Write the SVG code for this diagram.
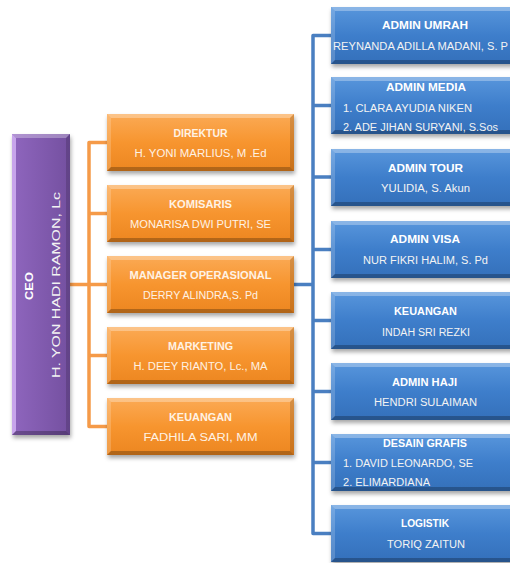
<svg xmlns="http://www.w3.org/2000/svg" xmlns:xlink="http://www.w3.org/1999/xlink" width="510" height="563" viewBox="0 0 510 563">
<style>
.t{font-family:"Liberation Sans",Arial,sans-serif;fill:#ffffff;font-size:10px;text-anchor:middle}
.b{font-weight:bold}
.n{fill:#f3f3f3}
.on{fill:#fff2e4}
.s{text-anchor:start}
.co{fill:none;stroke:#f59a48;stroke-width:3.5;stroke-linejoin:round}
.cb{fill:none;stroke:#4a7fc1;stroke-width:3.5;stroke-linejoin:round}
</style>
<defs>
<linearGradient id="gO" x1="0" y1="0" x2="0" y2="1">
<stop offset="0" stop-color="#fbaa55"/>
<stop offset="0.5" stop-color="#f7952f"/>
<stop offset="1" stop-color="#ec8620"/>
</linearGradient>
<linearGradient id="gB" x1="0" y1="0" x2="0" y2="1">
<stop offset="0" stop-color="#5896dc"/>
<stop offset="0.5" stop-color="#3e7ecb"/>
<stop offset="1" stop-color="#3470ba"/>
</linearGradient>
<linearGradient id="gP" x1="0" y1="0" x2="1" y2="0">
<stop offset="0" stop-color="#8f66be"/>
<stop offset="1" stop-color="#7450a0"/>
</linearGradient>
<filter id="sh" x="-10%" y="-20%" width="120%" height="150%">
<feGaussianBlur stdDeviation="2"/>
</filter>
<g id="bev">
<polygon points="0,0 187,0 183,4 4,4" fill="#ffffff" fill-opacity="0.3"/>
<polygon points="0,0 4,4 4,53 0,57" fill="#ffffff" fill-opacity="0.18"/>
<polygon points="187,0 187,57 183,53 183,4" fill="#000000" fill-opacity="0.15"/>
<polygon points="0,57 4,53 183,53 187,57" fill="#000000" fill-opacity="0.25"/>
</g>
<g id="boxO">
<rect x="1" y="3" width="187" height="57" fill="#000" fill-opacity="0.35" filter="url(#sh)"/>
<rect x="0" y="0" width="187" height="57" fill="url(#gO)"/>
<use xlink:href="#bev" href="#bev"/>
</g>
<g id="boxB">
<rect x="1" y="3" width="187" height="57" fill="#000" fill-opacity="0.35" filter="url(#sh)"/>
<rect x="0" y="0" width="187" height="57" fill="url(#gB)"/>
<use xlink:href="#bev" href="#bev"/>
</g>
</defs>
<rect width="510" height="563" fill="#ffffff"/>

<g id="connectors">
<path class="co" d="M70,284.5 H107 M107,142.5 H89 V426.5 H107 M89,213.5 H107 M89,355.5 H107"/>
<path class="cb" d="M294,284.5 H313 M331,35.5 H313 V533.5 H331 M313,105.5 H331 M313,177 H331 M313,249.5 H331 M313,320.5 H331 M313,391.5 H331 M313,462.5 H331"/>
</g>

<g id="ceo">
<rect x="13" y="137" width="58" height="301" fill="#000" fill-opacity="0.35" filter="url(#sh)"/>
<rect x="12" y="134" width="58" height="301" fill="url(#gP)"/>
<polygon points="12,134 70,134 66,138 16,138" fill="#ffffff" fill-opacity="0.3"/>
<polygon points="12,134 16,138 16,431 12,435" fill="#e0c0ff" fill-opacity="0.7"/>
<polygon points="70,134 70,435 66,431 66,138" fill="#000000" fill-opacity="0.15"/>
<polygon points="12,435 16,431 66,431 70,435" fill="#000000" fill-opacity="0.25"/>
<text class="t b" x="33" y="286" font-size="15" textLength="28" lengthAdjust="spacingAndGlyphs" transform="rotate(-90 33 286)">CEO</text>
<text class="t n" x="60" y="285" font-size="14" textLength="186" lengthAdjust="spacingAndGlyphs" transform="rotate(-90 60 285)">H. YON HADI RAMON, Lc</text>
</g>

<g id="direktur">
<use xlink:href="#boxO" href="#boxO" x="107" y="114"/>
<text class="t b on" x="200.5" y="137" textLength="54" lengthAdjust="spacingAndGlyphs">DIREKTUR</text>
<text class="t on" x="200.5" y="157" textLength="132" lengthAdjust="spacingAndGlyphs">H. YONI MARLIUS, M .Ed</text>
</g>
<g id="komisaris">
<use xlink:href="#boxO" href="#boxO" x="107" y="185"/>
<text class="t b on" x="200.5" y="208" textLength="63" lengthAdjust="spacingAndGlyphs">KOMISARIS</text>
<text class="t on" x="200.5" y="228" textLength="141" lengthAdjust="spacingAndGlyphs">MONARISA DWI PUTRI, SE</text>
</g>
<g id="manager">
<use xlink:href="#boxO" href="#boxO" x="107" y="256"/>
<text class="t b on" x="200.5" y="279" textLength="142" lengthAdjust="spacingAndGlyphs">MANAGER OPERASIONAL</text>
<text class="t on" x="200.5" y="299" textLength="115" lengthAdjust="spacingAndGlyphs">DERRY ALINDRA,S. Pd</text>
</g>
<g id="marketing">
<use xlink:href="#boxO" href="#boxO" x="107" y="327"/>
<text class="t b on" x="200.5" y="350" textLength="65" lengthAdjust="spacingAndGlyphs">MARKETING</text>
<text class="t on" x="200.5" y="370" textLength="134" lengthAdjust="spacingAndGlyphs">H. DEEY RIANTO, Lc., MA</text>
</g>
<g id="keuangan1">
<use xlink:href="#boxO" href="#boxO" x="107" y="398"/>
<text class="t b on" x="200.5" y="421" textLength="63" lengthAdjust="spacingAndGlyphs">KEUANGAN</text>
<text class="t on" x="200.5" y="441" textLength="114" lengthAdjust="spacingAndGlyphs">FADHILA SARI, MM</text>
</g>

<g id="admin-umrah">
<use xlink:href="#boxB" href="#boxB" x="331" y="7"/>
<text class="t b" x="425" y="29" textLength="86" lengthAdjust="spacingAndGlyphs">ADMIN UMRAH</text>
<text class="t n s" x="333" y="50" textLength="175" lengthAdjust="spacingAndGlyphs">REYNANDA ADILLA MADANI, S. P</text>
</g>
<g id="admin-media">
<use xlink:href="#boxB" href="#boxB" x="331" y="77"/>
<text class="t b" x="426" y="91" textLength="80" lengthAdjust="spacingAndGlyphs">ADMIN MEDIA</text>
<text class="t n s" x="343" y="112" textLength="129" lengthAdjust="spacingAndGlyphs">1. CLARA AYUDIA NIKEN</text>
<text class="t n s" x="343" y="131" textLength="155" lengthAdjust="spacingAndGlyphs">2. ADE JIHAN SURYANI, S.Sos</text>
</g>
<g id="admin-tour">
<use xlink:href="#boxB" href="#boxB" x="331" y="149"/>
<text class="t b" x="425.5" y="172" textLength="75" lengthAdjust="spacingAndGlyphs">ADMIN TOUR</text>
<text class="t n" x="425.5" y="192" textLength="89" lengthAdjust="spacingAndGlyphs">YULIDIA, S. Akun</text>
</g>
<g id="admin-visa">
<use xlink:href="#boxB" href="#boxB" x="331" y="221"/>
<text class="t b" x="425" y="243" textLength="70" lengthAdjust="spacingAndGlyphs">ADMIN VISA</text>
<text class="t n" x="425.5" y="264" textLength="125" lengthAdjust="spacingAndGlyphs">NUR FIKRI HALIM, S. Pd</text>
</g>
<g id="keuangan2">
<use xlink:href="#boxB" href="#boxB" x="331" y="292"/>
<text class="t b" x="425.5" y="315" textLength="63" lengthAdjust="spacingAndGlyphs">KEUANGAN</text>
<text class="t n" x="426" y="336" textLength="88" lengthAdjust="spacingAndGlyphs">INDAH SRI REZKI</text>
</g>
<g id="admin-haji">
<use xlink:href="#boxB" href="#boxB" x="331" y="363"/>
<text class="t b" x="424.5" y="386" textLength="65" lengthAdjust="spacingAndGlyphs">ADMIN HAJI</text>
<text class="t n" x="425.5" y="406" textLength="103" lengthAdjust="spacingAndGlyphs">HENDRI SULAIMAN</text>
</g>
<g id="desain-grafis">
<use xlink:href="#boxB" href="#boxB" x="331" y="434"/>
<text class="t b" x="425" y="447" textLength="84" lengthAdjust="spacingAndGlyphs">DESAIN GRAFIS</text>
<text class="t n s" x="343" y="467" textLength="130" lengthAdjust="spacingAndGlyphs">1. DAVID LEONARDO, SE</text>
<text class="t n s" x="343" y="486" textLength="87" lengthAdjust="spacingAndGlyphs">2. ELIMARDIANA</text>
</g>
<g id="logistik">
<use xlink:href="#boxB" href="#boxB" x="331" y="505"/>
<text class="t b" x="425" y="527" textLength="48" lengthAdjust="spacingAndGlyphs">LOGISTIK</text>
<text class="t n" x="426" y="548" textLength="78" lengthAdjust="spacingAndGlyphs">TORIQ ZAITUN</text>
</g>
</svg>
